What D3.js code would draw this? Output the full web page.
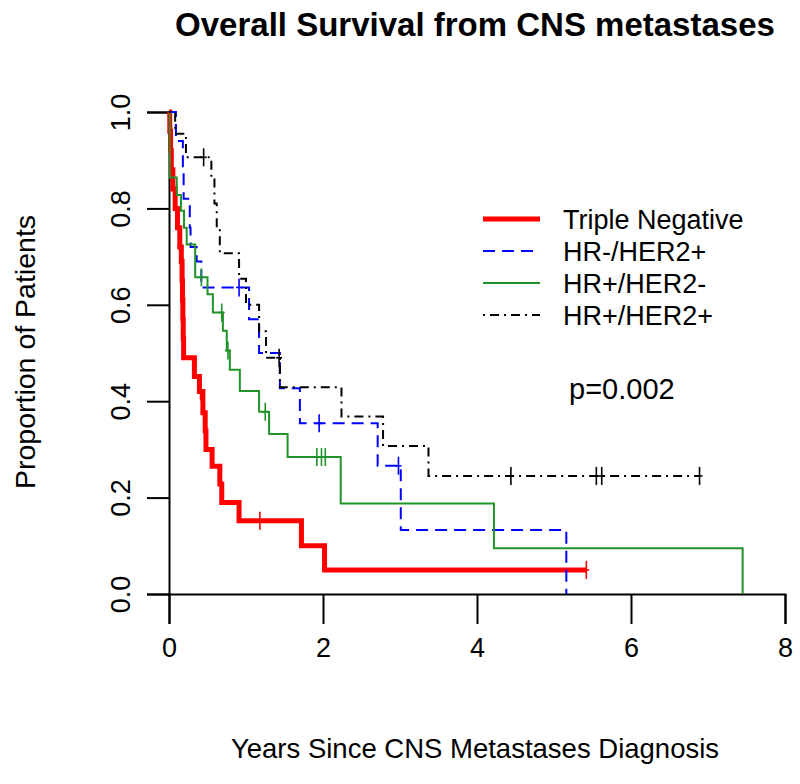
<!DOCTYPE html>
<html><head><meta charset="utf-8">
<script src="https://cdn.jsdelivr.net/npm/d3@7"></script>
<style>body{margin:0;background:#fff}svg{display:block}text{font-family:"Liberation Sans",Arial,sans-serif;fill:#000}</style>
</head><body>
<svg id="chart" width="800" height="784"></svg>
<script>
// ---- data ----
const groups = ["Triple Negative", "HR-/HER2+", "HR+/HER2-", "HR+/HER2+"];
const xTicks = [0, 2, 4, 6, 8];
const yTicks = [0, 0.2, 0.4, 0.6, 0.8, 1.0];
const yTickLabels = ["0.0", "0.2", "0.4", "0.6", "0.8", "1.0"];

const tnTimes = [0, 0.01, 0.02, 0.03, 0.05, 0.08, 0.11, 0.14, 0.16, 0.17, 0.175, 0.18, 0.185, 0.19, 0.33, 0.395, 0.44, 0.47, 0.48, 0.56, 0.66, 0.685, 0.91, 1.72, 2.02, 5.42];
const tnSurv  = [1, 0.96, 0.92, 0.88, 0.84, 0.80, 0.76, 0.72, 0.69, 0.65, 0.61, 0.57, 0.53, 0.49, 0.451, 0.42, 0.376, 0.338, 0.30, 0.265, 0.228, 0.19, 0.152, 0.10, 0.05, 0.05];
const tnCens  = [0.41, 1.18, 5.42];

const hr2Times = [0, 0.09, 0.18, 0.19, 0.27, 0.28, 0.36, 0.42, 1.04, 1.17, 1.44, 1.70, 2.71, 3.01, 5.16];
const hr2Surv  = [1, 0.94, 0.88, 0.82, 0.76, 0.72, 0.69, 0.636, 0.57, 0.50, 0.427, 0.354, 0.266, 0.133, 0];
const hr2Cens  = [0.91, 1.95, 2.98];

const hrpTimes = [0, 0.01, 0.10, 0.155, 0.195, 0.23, 0.34, 0.50, 0.57, 0.70, 0.75, 0.79, 0.92, 1.17, 1.30, 1.54, 2.23, 4.22, 7.45];
const hrpSurv  = [1, 0.864, 0.828, 0.795, 0.76, 0.725, 0.657, 0.622, 0.584, 0.546, 0.505, 0.465, 0.421, 0.378, 0.332, 0.284, 0.188, 0.095, 0];
const hrpCens  = [0.42, 0.685, 0.765, 1.25, 1.92, 1.98, 2.03];

const dpTimes = [0, 0.08, 0.22, 0.55, 0.59, 0.62, 0.66, 0.91, 1.0, 1.17, 1.26, 1.44, 2.24, 2.78, 3.37, 6.89];
const dpSurv  = [1, 0.955, 0.906, 0.86, 0.81, 0.76, 0.707, 0.654, 0.60, 0.545, 0.49, 0.429, 0.368, 0.307, 0.245, 0.245];
const dpCens  = [0.45, 1.43, 4.44, 5.55, 5.62, 6.89];

const pText = "p=0.002";

// ---- styles ----
const styles = [
  {color: "#ff0000", width: 5, dash: null},
  {color: "#0000ff", width: 2, dash: "12,7"},
  {color: "#22922a", width: 2, dash: null},
  {color: "#000000", width: 2, dash: "2,5,9,5"}
];
const series = [
  {t: tnTimes, s: tnSurv, c: tnCens},
  {t: hr2Times, s: hr2Surv, c: hr2Cens},
  {t: hrpTimes, s: hrpSurv, c: hrpCens},
  {t: dpTimes, s: dpSurv, c: dpCens}
];

const svg = d3.select("#chart");
const x = d3.scaleLinear().domain([0, 8]).range([169, 785]);
const y = d3.scaleLinear().domain([0, 1]).range([594, 112]);

// title
svg.append("text").attr("x", 475).attr("y", 36).attr("text-anchor", "middle")
  .attr("font-size", 33).attr("font-weight", "bold").text("Overall Survival from CNS metastases");

// x axis
const xAxis = svg.append("g").attr("transform", "translate(0,594)")
  .call(d3.axisBottom(x).tickValues(xTicks).tickFormat(d3.format("d")).tickSizeOuter(0).tickSize(30).tickPadding(14));
xAxis.select(".domain").attr("stroke-width", 2);
xAxis.selectAll(".tick line").attr("stroke-width", 2);
xAxis.selectAll(".tick text").attr("font-size", 27).attr("font-family", "Liberation Sans, Arial, sans-serif").attr("fill", "#000");

// y axis
const yAxis = svg.append("g").attr("transform", "translate(169,0)")
  .call(d3.axisLeft(y).tickValues(yTicks).tickFormat((d, i) => yTickLabels[i]).tickSizeOuter(0).tickSize(22).tickPadding(0));
yAxis.select(".domain").attr("stroke-width", 2);
yAxis.selectAll(".tick line").attr("stroke-width", 2);
yAxis.selectAll(".tick text").attr("font-size", 27).attr("font-family", "Liberation Sans, Arial, sans-serif").attr("fill", "#000")
  .attr("text-anchor", "middle").attr("x", 0).attr("dy", 0)
  .attr("transform", "translate(-39,0) rotate(-90)");

// axis titles
svg.append("text").attr("x", 475).attr("y", 758).attr("text-anchor", "middle")
  .attr("font-size", 27.5).text("Years Since CNS Metastases Diagnosis");
svg.append("text").attr("transform", "translate(35,352) rotate(-90)").attr("text-anchor", "middle")
  .attr("font-size", 28.5).text("Proportion of Patients");

// curves
const line = d3.line().x(d => x(d[0])).y(d => y(d[1])).curve(d3.curveStepAfter);
const curves = svg.append("g");
series.forEach((sr, i) => {
  const pts = sr.t.map((t, k) => [t, sr.s[k]]);
  const st = styles[i];
  curves.append("path").attr("d", line(pts)).attr("fill", "none")
    .attr("stroke", st.color).attr("stroke-width", st.width)
    .attr("stroke-dasharray", st.dash);
  // censor marks
  const survAt = t => { let v = 1; for (let k = 0; k < sr.t.length; k++) { if (sr.t[k] <= t) v = sr.s[k]; } return v; };
  sr.c.forEach(ct => {
    const cx = x(ct), cy = y(survAt(ct));
    curves.append("line").attr("x1", cx).attr("x2", cx).attr("y1", cy - 9).attr("y2", cy + 9)
      .attr("stroke", st.color).attr("stroke-width", 1.6);
    curves.append("line").attr("x1", cx - 3).attr("x2", cx + 3).attr("y1", cy).attr("y2", cy)
      .attr("stroke", st.color).attr("stroke-width", 1.6);
  });
});

// legend
const legRows = [219, 251, 283, 315];
const leg = svg.append("g");
groups.forEach((g, i) => {
  const st = styles[i];
  leg.append("line").attr("x1", 483).attr("x2", 540).attr("y1", legRows[i]).attr("y2", legRows[i])
    .attr("stroke", st.color).attr("stroke-width", st.width).attr("stroke-dasharray", st.dash);
  leg.append("text").attr("x", 563).attr("y", legRows[i] + 10).attr("font-size", 27).text(g);
});

svg.append("text").attr("x", 569).attr("y", 399).attr("font-size", 29).text(pText);
</script>
</body></html>
